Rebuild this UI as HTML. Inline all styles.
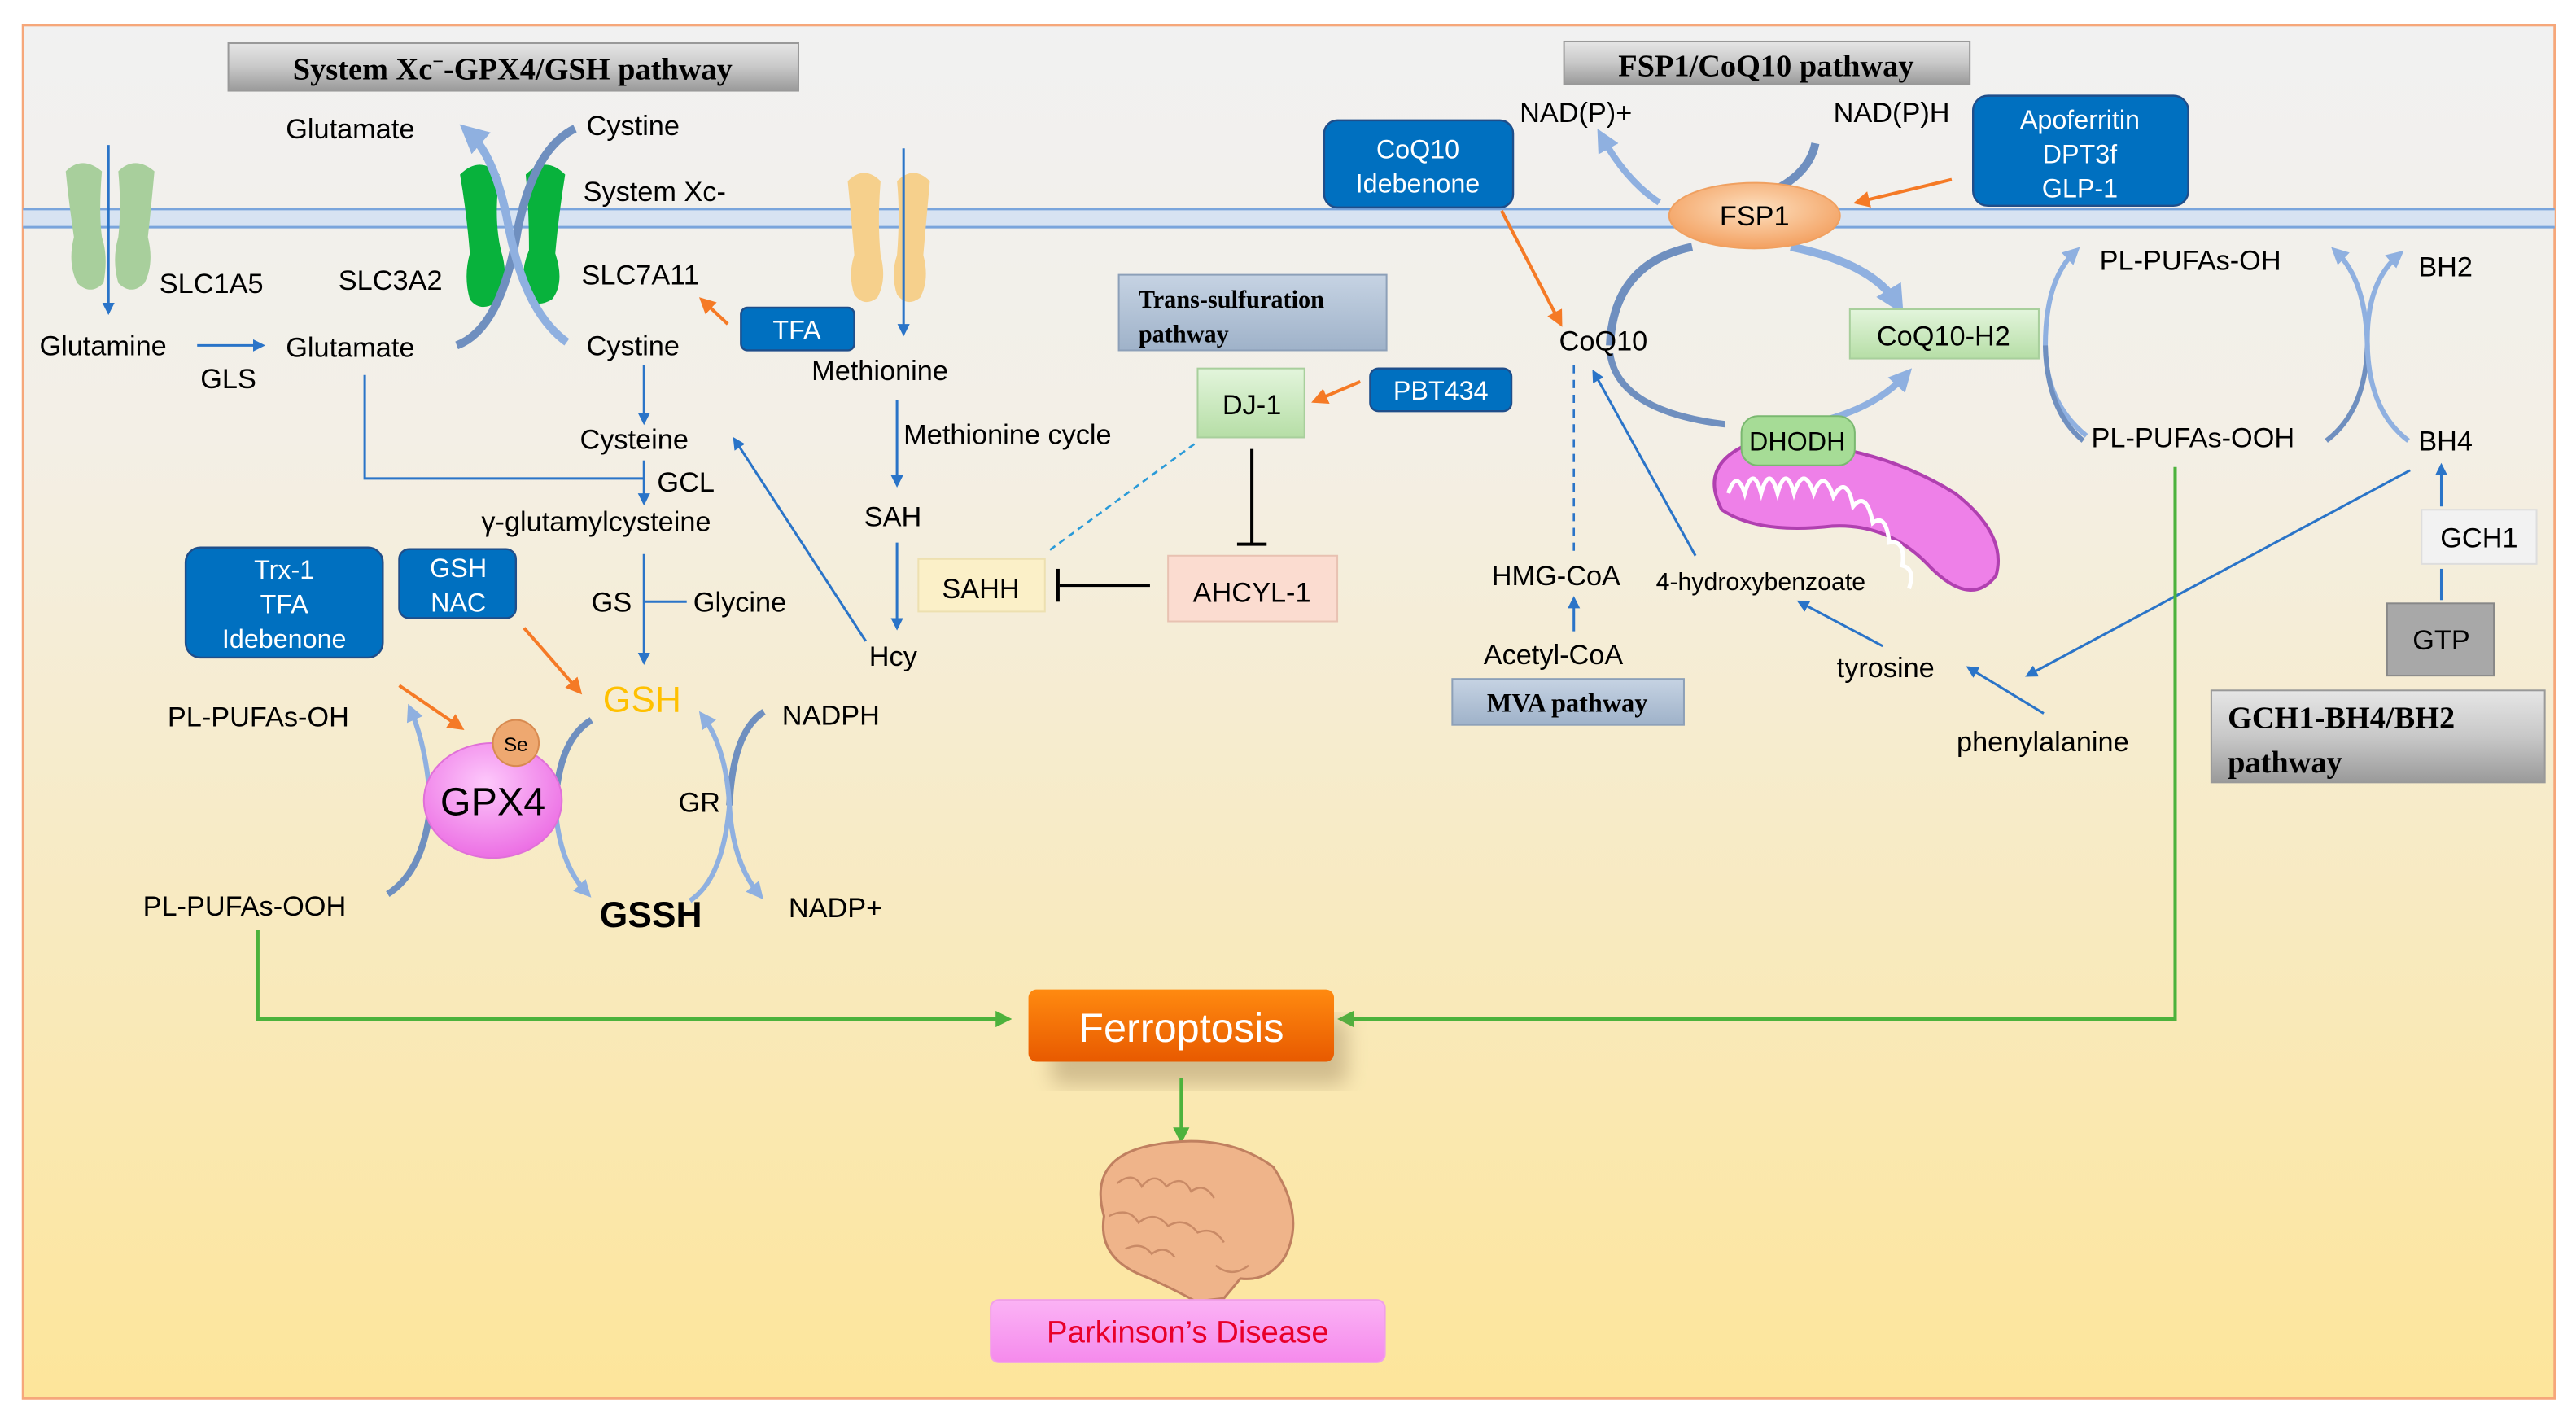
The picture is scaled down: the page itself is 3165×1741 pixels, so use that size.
<!DOCTYPE html>
<html><head><meta charset="utf-8"><style>
html,body{margin:0;padding:0;background:#fff}
svg{display:block}
text{font-family:"Liberation Sans",sans-serif;fill:#000}
.s{font-family:"Liberation Serif",serif;font-weight:bold}
</style></head><body>
<svg width="3165" height="1741" viewBox="0 0 1568 862" xmlns="http://www.w3.org/2000/svg">
<defs>
<linearGradient id="bg" x1="0" y1="0" x2="0" y2="1">
<stop offset="0" stop-color="#f1f1f1"/><stop offset="0.3" stop-color="#f3efe6"/><stop offset="1" stop-color="#fde59a"/></linearGradient>
<linearGradient id="gry" x1="0" y1="0" x2="0" y2="1"><stop offset="0" stop-color="#e6e6e6"/><stop offset="0.5" stop-color="#c8c8c8"/><stop offset="1" stop-color="#9a9a9a"/></linearGradient>
<linearGradient id="blg" x1="0" y1="0" x2="0" y2="1"><stop offset="0" stop-color="#c6d3e3"/><stop offset="1" stop-color="#9fb2c9"/></linearGradient>
<linearGradient id="grn" x1="0" y1="0" x2="0" y2="1"><stop offset="0" stop-color="#e3f5dc"/><stop offset="1" stop-color="#b6dea6"/></linearGradient>
<linearGradient id="org" x1="0" y1="0" x2="0" y2="1"><stop offset="0" stop-color="#ff8a10"/><stop offset="1" stop-color="#e85a00"/></linearGradient>
<linearGradient id="pnk" x1="0" y1="0" x2="0" y2="1"><stop offset="0" stop-color="#fbb3f5"/><stop offset="1" stop-color="#f58aec"/></linearGradient>
<radialGradient id="fsp" cx="0.5" cy="0.4" r="0.6"><stop offset="0" stop-color="#fde0c0"/><stop offset="1" stop-color="#f3a060"/></radialGradient>
<radialGradient id="gpx" cx="0.45" cy="0.35" r="0.65"><stop offset="0" stop-color="#fdc8fb"/><stop offset="1" stop-color="#ec6fe4"/></radialGradient>
<filter id="blur"><feGaussianBlur stdDeviation="6"/></filter>
<marker id="ab" viewBox="0 0 10 10" refX="8" refY="5" markerWidth="5" markerHeight="5" orient="auto"><path d="M0,0L10,5L0,10z" fill="#2a74c8"/></marker>
<marker id="ao" viewBox="0 0 10 10" refX="8" refY="5" markerWidth="5" markerHeight="5" orient="auto"><path d="M0,0L10,5L0,10z" fill="#f57a26"/></marker>
<marker id="ag" viewBox="0 0 10 10" refX="8" refY="5" markerWidth="5" markerHeight="5" orient="auto"><path d="M0,0L10,5L0,10z" fill="#4cb23c"/></marker>
<marker id="al" viewBox="0 0 10 10" refX="6" refY="5" markerWidth="3.5" markerHeight="3.5" orient="auto"><path d="M0,0L10,5L0,10z" fill="#8fb0e0"/></marker>
<marker id="ad" viewBox="0 0 10 10" refX="6" refY="5" markerWidth="3.5" markerHeight="3.5" orient="auto"><path d="M0,0L10,5L0,10z" fill="#6f8fbf"/></marker>
</defs>
<rect width="1568" height="862" fill="#fff"/>
<rect x="14" y="15" width="1541" height="836" fill="url(#bg)" stroke="#f6a77a" stroke-width="1.5"/>
<rect x="14" y="127" width="1541" height="11" fill="#d7e3f2"/>
<line x1="14" y1="127" x2="1555" y2="127" stroke="#7aa5dc" stroke-width="1.5"/>
<line x1="14" y1="138" x2="1555" y2="138" stroke="#7aa5dc" stroke-width="1.5"/>

<!-- transporters -->
<g fill="#a8cf9c">
<path d="M40,104 q10,-10 22,0 q-2,25 0,40 q4,12 1,28 q-8,8 -16,0 q-6,-12 -2,-28 q-3,-20 -5,-40z"/>
<path d="M72,104 q10,-10 22,0 q-2,22 -4,40 q4,16 -2,28 q-8,8 -16,0 q-4,-14 0,-28 q2,-18 0,-40z"/></g>
<g fill="#08b23c">
<path d="M280,106 q12,-12 24,0 q-4,30 2,50 q4,18 -4,28 q-10,6 -16,-2 q-4,-14 0,-28 q-2,-25 -6,-48z"/>
<path d="M320,106 q12,-12 24,0 q-4,25 -6,48 q6,18 -2,28 q-10,6 -16,-2 q-4,-14 2,-28 q0,-25 -2,-46z"/></g>
<g fill="#f6d08c">
<path d="M516,110 q10,-10 20,0 q-2,25 0,45 q4,15 -2,26 q-8,6 -14,-2 q-4,-12 0,-24 q-2,-25 -4,-45z"/>
<path d="M546,110 q10,-10 20,0 q-2,22 -4,45 q4,15 -2,26 q-8,6 -14,-2 q-4,-12 0,-24 q2,-25 0,-45z"/></g>
<line x1="66" y1="88" x2="66" y2="190" stroke="#2a74c8" stroke-width="1.5" marker-end="url(#ab)"/>
<line x1="550" y1="90" x2="550" y2="203" stroke="#2a74c8" stroke-width="1.5" marker-end="url(#ab)"/>
<path d="M278,210 Q305,200 315,140 Q325,90 350,78" fill="none" stroke="#6f8fbf" stroke-width="5"/>
<path d="M345,208 Q320,190 310,140 Q302,95 285,80" fill="none" stroke="#8fb0e0" stroke-width="5" marker-end="url(#al)"/>

<rect x="139" y="26" width="347" height="29" fill="url(#gry)" stroke="#999"/>
<text x="312" y="48" class="s" font-size="19" text-anchor="middle">System Xc<tspan font-size="12" dy="-7">−</tspan><tspan dy="7">-GPX4/GSH pathway</tspan></text>
<rect x="952" y="25" width="247" height="26" fill="url(#gry)" stroke="#999"/>
<text x="1075" y="46" class="s" font-size="19" text-anchor="middle">FSP1/CoQ10 pathway</text>
<rect x="681" y="167" width="163" height="46" fill="url(#blg)" stroke="#8da0b8"/>
<text x="693" y="187" class="s" font-size="15">Trans-sulfuration</text>
<text x="693" y="208" class="s" font-size="15">pathway</text>
<rect x="884" y="413" width="141" height="28" fill="url(#blg)" stroke="#8da0b8"/>
<text x="954" y="433" class="s" font-size="16" text-anchor="middle">MVA pathway</text>
<rect x="1346" y="420" width="203" height="56" fill="url(#gry)" stroke="#999"/>
<text x="1356" y="443" class="s" font-size="19">GCH1-BH4/BH2</text>
<text x="1356" y="470" class="s" font-size="19">pathway</text>

<g font-size="17">
<text x="174" y="84">Glutamate</text>
<text x="357" y="82">Cystine</text>
<text x="355" y="122">System Xc-</text>
<text x="97" y="178">SLC1A5</text>
<text x="206" y="176">SLC3A2</text>
<text x="354" y="173">SLC7A11</text>
<text x="24" y="216">Glutamine</text>
<text x="174" y="217">Glutamate</text>
<text x="122" y="236">GLS</text>
<text x="357" y="216">Cystine</text>
<text x="494" y="231">Methionine</text>
<text x="353" y="273">Cysteine</text>
<text x="400" y="299">GCL</text>
<text x="293" y="323">γ-glutamylcysteine</text>
<text x="550" y="270">Methionine cycle</text>
<text x="526" y="320">SAH</text>
<text x="360" y="372">GS</text>
<text x="422" y="372">Glycine</text>
<text x="529" y="405">Hcy</text>
<text x="102" y="442">PL-PUFAs-OH</text>
<text x="87" y="557">PL-PUFAs-OOH</text>
<text x="476" y="441">NADPH</text>
<text x="480" y="558">NADP+</text>
<text x="413" y="494">GR</text>
</g>
<text x="367" y="433" font-size="22" style="fill:#ffc000">GSH</text>
<text x="365" y="564" font-size="22" font-weight="bold">GSSH</text>

<g stroke="#2a74c8" stroke-width="1.5" fill="none">
<line x1="120" y1="210" x2="160" y2="210" marker-end="url(#ab)"/>
<line x1="392" y1="222" x2="392" y2="257" marker-end="url(#ab)"/>
<path d="M222,228 V291 H392"/>
<line x1="392" y1="280" x2="392" y2="306" marker-end="url(#ab)"/>
<line x1="392" y1="337" x2="392" y2="403" marker-end="url(#ab)"/>
<line x1="392" y1="366" x2="418" y2="366"/>
<line x1="546" y1="243" x2="546" y2="295" marker-end="url(#ab)"/>
<line x1="546" y1="330" x2="546" y2="382" marker-end="url(#ab)"/>
<line x1="527" y1="390" x2="447" y2="267" marker-end="url(#ab)"/>
</g>
<line x1="443" y1="197" x2="427" y2="182" stroke="#f57a26" stroke-width="2" marker-end="url(#ao)"/>

<g fill="#0070c0" stroke="#1f4e8a" stroke-width="1.2">
<rect x="451" y="187" width="69" height="26" rx="4"/>
<rect x="113" y="333" width="120" height="67" rx="9"/>
<rect x="243" y="334" width="71" height="42" rx="6"/>
<rect x="834" y="224" width="86" height="26" rx="5"/>
<rect x="806" y="73" width="115" height="53" rx="8"/>
<rect x="1201" y="58" width="131" height="67" rx="9"/>
</g>
<g font-size="16" text-anchor="middle">
<text x="485" y="206" style="fill:#fff">TFA</text>
<text x="173" y="352" style="fill:#fff">Trx-1</text>
<text x="173" y="373" style="fill:#fff">TFA</text>
<text x="173" y="394" style="fill:#fff">Idebenone</text>
<text x="279" y="351" style="fill:#fff">GSH</text>
<text x="279" y="372" style="fill:#fff">NAC</text>
<text x="877" y="243" style="fill:#fff">PBT434</text>
<text x="863" y="96" style="fill:#fff">CoQ10</text>
<text x="863" y="117" style="fill:#fff">Idebenone</text>
<text x="1266" y="78" style="fill:#fff">Apoferritin</text>
<text x="1266" y="99" style="fill:#fff">DPT3f</text>
<text x="1266" y="120" style="fill:#fff">GLP-1</text>
</g>
<line x1="243" y1="417" x2="281" y2="443" stroke="#f57a26" stroke-width="2" marker-end="url(#ao)"/>
<line x1="319" y1="382" x2="353" y2="421" stroke="#f57a26" stroke-width="2" marker-end="url(#ao)"/>

<path d="M236,544 Q258,530 262,490" fill="none" stroke="#6f8fbf" stroke-width="4"/>
<path d="M262,490 Q260,455 250,432" fill="none" stroke="#8fb0e0" stroke-width="3" marker-end="url(#al)"/>
<path d="M360,438 Q340,450 338,490" fill="none" stroke="#6f8fbf" stroke-width="4"/>
<path d="M338,490 Q340,525 357,543" fill="none" stroke="#8fb0e0" stroke-width="3" marker-end="url(#al)"/>
<path d="M465,433 Q446,445 444,490" fill="none" stroke="#6f8fbf" stroke-width="4"/>
<path d="M444,490 Q446,525 462,544" fill="none" stroke="#8fb0e0" stroke-width="3" marker-end="url(#al)"/>
<path d="M420,548 Q440,535 444,490 Q442,455 428,436" fill="none" stroke="#8fb0e0" stroke-width="3" marker-end="url(#al)"/>
<ellipse cx="300" cy="487" rx="42" ry="35" fill="url(#gpx)" stroke="#e070d8"/>
<text x="300" y="496" font-size="24" text-anchor="middle">GPX4</text>
<circle cx="314" cy="452" r="14" fill="#eea870" stroke="#d88a50"/>
<text x="314" y="457" font-size="12" text-anchor="middle">Se</text>

<rect x="729" y="224" width="65" height="42" fill="url(#grn)" stroke="#a8cf9c"/>
<text x="762" y="252" font-size="17" text-anchor="middle">DJ-1</text>
<line x1="828" y1="232" x2="800" y2="244" stroke="#f57a26" stroke-width="2" marker-end="url(#ao)"/>
<line x1="762" y1="273" x2="762" y2="331" stroke="#000" stroke-width="2"/>
<line x1="753" y1="331" x2="771" y2="331" stroke="#000" stroke-width="2"/>
<rect x="711" y="338" width="103" height="40" fill="#fbdcd0" stroke="#e8c2b2"/>
<text x="762" y="366" font-size="17" text-anchor="middle">AHCYL-1</text>
<rect x="559" y="340" width="77" height="32" fill="#fbf0c8" stroke="#ede0b0"/>
<text x="597" y="364" font-size="17" text-anchor="middle">SAHH</text>
<line x1="700" y1="356" x2="645" y2="356" stroke="#000" stroke-width="2"/>
<line x1="644" y1="346" x2="644" y2="366" stroke="#000" stroke-width="2"/>
<line x1="727" y1="270" x2="637" y2="336" stroke="#2a9ad8" stroke-width="1.3" stroke-dasharray="4,3"/>

<path d="M1010,123 Q990,110 975,83" fill="none" stroke="#8fb0e0" stroke-width="4" marker-end="url(#al)"/>
<path d="M1060,123 Q1100,112 1105,87" fill="none" stroke="#6f8fbf" stroke-width="5"/>
<path d="M980,210 Q982,160 1030,150" fill="none" stroke="#6f8fbf" stroke-width="5"/>
<path d="M1090,150 Q1140,160 1155,185" fill="none" stroke="#8fb0e0" stroke-width="5" marker-end="url(#al)"/>
<path d="M980,215 Q985,250 1050,258" fill="none" stroke="#6f8fbf" stroke-width="4"/>
<path d="M1100,258 Q1140,250 1160,228" fill="none" stroke="#8fb0e0" stroke-width="4" marker-end="url(#al)"/>
<ellipse cx="1068" cy="131" rx="52" ry="20" fill="url(#fsp)" stroke="#f0a060"/>
<text x="1068" y="137" font-size="17" text-anchor="middle">FSP1</text>
<line x1="1188" y1="109" x2="1130" y2="123" stroke="#f57a26" stroke-width="2" marker-end="url(#ao)"/>
<line x1="914" y1="128" x2="950" y2="197" stroke="#f57a26" stroke-width="2" marker-end="url(#ao)"/>
<text x="925" y="74" font-size="17">NAD(P)+</text>
<text x="1116" y="74" font-size="17">NAD(P)H</text>
<text x="949" y="213" font-size="17">CoQ10</text>
<rect x="1126" y="188" width="115" height="30" fill="url(#grn)" stroke="#a8cf9c"/>
<text x="1183" y="210" font-size="17" text-anchor="middle">CoQ10-H2</text>
<!-- mitochondria -->
<path d="M1060,272 Q1035,285 1048,310 Q1070,325 1115,320 Q1150,318 1175,345 Q1200,370 1215,350 Q1222,325 1190,300 Q1150,275 1100,270 Z" fill="#ee80e8" stroke="#b040b0" stroke-width="2"/>
<path d="M1052,300 q5,-15 10,0 q5,-18 10,0 q5,-18 10,0 q5,-18 10,0 q6,-18 12,0 q6,-16 12,2 q8,-14 12,6 q8,-10 12,10 q8,-6 10,12 q10,-2 8,14 q8,2 4,14" fill="none" stroke="#fff" stroke-width="2.5"/>
<rect x="1060" y="253" width="69" height="30" rx="10" fill="#a6dc96" stroke="#7ab870"/>
<text x="1094" y="274" font-size="16" text-anchor="middle">DHODH</text>
<line x1="958" y1="222" x2="958" y2="338" stroke="#2a74c8" stroke-width="1.3" stroke-dasharray="5,4"/>
<line x1="1032" y1="338" x2="970" y2="226" stroke="#2a74c8" stroke-width="1.5" marker-end="url(#ab)"/>
<text x="908" y="356" font-size="17">HMG-CoA</text>
<text x="1008" y="359" font-size="15">4-hydroxybenzoate</text>
<line x1="958" y1="384" x2="958" y2="364" stroke="#2a74c8" stroke-width="1.5" marker-end="url(#ab)"/>
<text x="903" y="404" font-size="17">Acetyl-CoA</text>
<text x="1118" y="412" font-size="17">tyrosine</text>
<line x1="1146" y1="393" x2="1095" y2="366" stroke="#2a74c8" stroke-width="1.5" marker-end="url(#ab)"/>
<text x="1191" y="457" font-size="17">phenylalanine</text>
<line x1="1244" y1="434" x2="1198" y2="406" stroke="#2a74c8" stroke-width="1.5" marker-end="url(#ab)"/>
<line x1="1467" y1="286" x2="1234" y2="411" stroke="#2a74c8" stroke-width="1.5" marker-end="url(#ab)"/>

<text x="1278" y="164" font-size="17">PL-PUFAs-OH</text>
<text x="1273" y="272" font-size="17">PL-PUFAs-OOH</text>
<text x="1472" y="168" font-size="17">BH2</text>
<text x="1472" y="274" font-size="17">BH4</text>
<path d="M1270,265 Q1245,245 1245,210 Q1245,170 1263,153" fill="none" stroke="#8fb0e0" stroke-width="3" marker-end="url(#al)"/>
<path d="M1245,210 Q1246,250 1268,268" fill="none" stroke="#6f8fbf" stroke-width="3"/>
<path d="M1416,268 Q1440,250 1441,210" fill="none" stroke="#6f8fbf" stroke-width="3"/>
<path d="M1441,210 Q1440,170 1422,153" fill="none" stroke="#8fb0e0" stroke-width="3" marker-end="url(#al)"/>
<path d="M1466,268 Q1442,250 1441,210 Q1440,172 1460,155" fill="none" stroke="#8fb0e0" stroke-width="3" marker-end="url(#al)"/>
<rect x="1474" y="310" width="70" height="33" fill="#f2f2f2" stroke="#ddd"/>
<text x="1509" y="333" font-size="17" text-anchor="middle">GCH1</text>
<rect x="1453" y="367" width="65" height="44" fill="#a8a8a8" stroke="#888"/>
<text x="1486" y="395" font-size="17" text-anchor="middle">GTP</text>
<line x1="1486" y1="365" x2="1486" y2="346" stroke="#2a74c8" stroke-width="1.5"/>
<line x1="1486" y1="308" x2="1486" y2="283" stroke="#2a74c8" stroke-width="1.5" marker-end="url(#ab)"/>

<path d="M157,566 V620 H614" fill="none" stroke="#4cb23c" stroke-width="2" marker-end="url(#ag)"/>
<path d="M1324,284 V620 H816" fill="none" stroke="#4cb23c" stroke-width="2" marker-end="url(#ag)"/>
<rect x="640" y="620" width="180" height="40" rx="6" fill="#a08860" opacity="0.45" filter="url(#blur)"/>
<rect x="626" y="602" width="186" height="44" rx="5" fill="url(#org)"/>
<text x="719" y="634" font-size="25" text-anchor="middle" style="fill:#fff">Ferroptosis</text>
<line x1="719" y1="656" x2="719" y2="694" stroke="#4cb23c" stroke-width="2" marker-end="url(#ag)"/>
<path d="M672,740 Q662,705 700,697 Q745,688 775,710 Q795,740 782,765 Q772,780 755,778 L745,790 L728,792 Q710,782 695,776 Q668,765 672,740Z" fill="#efb48a" stroke="#c08060" stroke-width="1.5"/>
<path d="M680,720 q10,-8 15,2 q8,-10 15,0 q10,-8 15,3 q8,-6 14,4 M675,740 q12,-6 18,4 q10,-8 18,2 q10,-6 18,4 q10,-4 16,6 M685,760 q10,-5 16,3 q8,-6 14,2 M740,770 q10,8 20,0" fill="none" stroke="#c98a66" stroke-width="1.2"/>
<rect x="603" y="791" width="240" height="38" rx="5" fill="url(#pnk)" stroke="#f0a0e8"/>
<text x="723" y="817" font-size="19" text-anchor="middle" style="fill:#e8002a">Parkinson’s Disease</text>
</svg>
</body></html>
